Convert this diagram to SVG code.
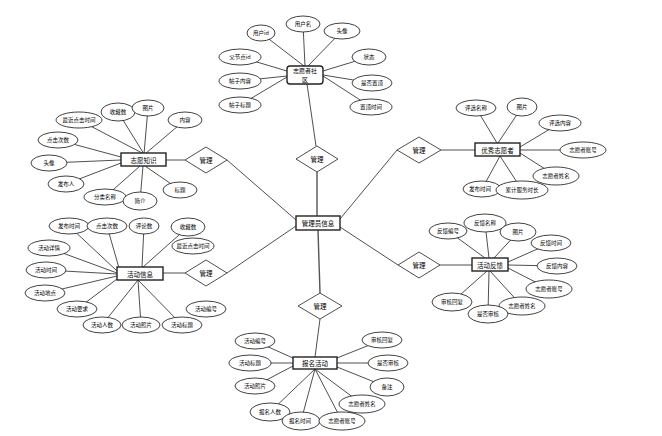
<svg xmlns="http://www.w3.org/2000/svg" width="662" height="436" viewBox="0 0 662 436">
<style>
.e{fill:#fff;stroke:#111;stroke-width:0.8}
.b{fill:#fff;stroke:#222;stroke-width:1.4}
.d{fill:#fff;stroke:#222;stroke-width:0.8}
.l line{stroke:#222;stroke-width:0.8}
.m line{stroke:#555;stroke-width:1.4}
text{font-family:"Noto Sans CJK SC","Noto Sans",sans-serif;font-size:5.5px;text-anchor:middle;dominant-baseline:central;fill:#000}
.n{font-size:6.5px}
.s{font-size:6px}
</style>
<rect width="662" height="436" fill="#fff"/>
<g id="connectors">
<g class="l">
<line x1="261" y1="33" x2="304" y2="66"/><line x1="303" y1="24" x2="305" y2="66"/><line x1="342" y1="31" x2="308" y2="66"/>
<line x1="240" y1="57" x2="287" y2="71"/><line x1="240" y1="81" x2="287" y2="76"/><line x1="240" y1="105" x2="287" y2="77"/>
<line x1="369" y1="57" x2="323" y2="71"/><line x1="372" y1="83" x2="323" y2="75"/><line x1="371" y1="107" x2="323" y2="76"/>
<line x1="307" y1="84" x2="316" y2="146"/>
<line x1="79" y1="120" x2="144" y2="154"/><line x1="118" y1="112" x2="144" y2="154"/><line x1="148" y1="108" x2="144" y2="154"/><line x1="185" y1="120" x2="145" y2="154"/>
<line x1="58" y1="140" x2="121" y2="157"/><line x1="49" y1="163" x2="121" y2="160"/><line x1="66" y1="184" x2="121" y2="163"/>
<line x1="105" y1="197" x2="140" y2="166"/><line x1="140" y1="201" x2="143" y2="166"/><line x1="180" y1="190" x2="145" y2="166"/>
<line x1="166" y1="160" x2="185" y2="160"/>
<line x1="69" y1="226" x2="117" y2="271"/><line x1="107" y1="226" x2="119" y2="268"/><line x1="144" y1="226" x2="142" y2="267"/><line x1="188" y1="227" x2="143" y2="267"/>
<line x1="49" y1="248" x2="117" y2="273"/><line x1="46" y1="270" x2="117" y2="274"/><line x1="45" y1="293" x2="117" y2="276"/><line x1="77" y1="309" x2="117" y2="279"/>
<line x1="102" y1="325" x2="138" y2="280"/><line x1="141" y1="325" x2="138" y2="280"/><line x1="182" y1="325" x2="138" y2="280"/>
<line x1="163" y1="273" x2="185" y2="273"/>
<line x1="476" y1="108" x2="497" y2="143"/><line x1="522" y1="107" x2="498" y2="143"/><line x1="560" y1="123" x2="520" y2="147"/>
<line x1="583" y1="150" x2="520" y2="150"/><line x1="556" y1="176" x2="520" y2="153"/><line x1="482" y1="189" x2="500" y2="156"/><line x1="522" y1="190" x2="500" y2="156"/>
<line x1="441" y1="150" x2="475" y2="150"/>
<line x1="448" y1="231" x2="485" y2="258"/><line x1="485" y1="223" x2="489" y2="258"/><line x1="518" y1="232" x2="494" y2="258"/>
<line x1="551" y1="243" x2="508" y2="262"/><line x1="557" y1="266" x2="508" y2="265"/><line x1="549" y1="289" x2="508" y2="268"/>
<line x1="522" y1="306" x2="490" y2="271"/><line x1="488" y1="314" x2="489" y2="271"/><line x1="452" y1="302" x2="487" y2="271"/>
<line x1="440" y1="265" x2="472" y2="265"/>
<line x1="320" y1="319" x2="315" y2="357"/>
<line x1="255" y1="341" x2="293" y2="358"/><line x1="250" y1="363" x2="293" y2="363"/><line x1="255" y1="386" x2="293" y2="366"/>
<line x1="270" y1="412" x2="315" y2="369"/><line x1="301" y1="421" x2="315" y2="369"/><line x1="342" y1="421" x2="315" y2="369"/><line x1="362" y1="404" x2="315" y2="369"/>
<line x1="387" y1="387" x2="337" y2="367"/><line x1="388" y1="363" x2="337" y2="363"/><line x1="382" y1="340" x2="337" y2="358"/>
<line x1="227" y1="160" x2="296" y2="220"/><line x1="227" y1="273" x2="296" y2="226"/>
<line x1="397" y1="150" x2="340" y2="219"/><line x1="398" y1="265" x2="340" y2="227"/>
</g>
<g class="m">
<line x1="317" y1="172" x2="317" y2="216"/>
<line x1="318" y1="230" x2="320" y2="293"/>
</g>
</g>
<g id="center">
<rect class="b" x="296" y="216" width="44" height="14"/><text class="n" x="318" y="223">管理员信息</text>
</g>
<g id="rel-top"><polygon class="d" points="317,146 338,159 317,172 296,159"/><text class="n" x="317" y="159">管理</text></g>
<g id="rel-lu"><polygon class="d" points="206,147 227,160 206,173 185,160"/><text class="n" x="206" y="160">管理</text></g>
<g id="rel-ll"><polygon class="d" points="206,260 227,273 206,286 185,273"/><text class="n" x="206" y="273">管理</text></g>
<g id="rel-ru"><polygon class="d" points="419,137 441,150 419,163 397,150"/><text class="n" x="419" y="150">管理</text></g>
<g id="rel-rl"><polygon class="d" points="419,252 440,265 419,278 398,265"/><text class="n" x="419" y="265">管理</text></g>
<g id="rel-b"><polygon class="d" points="320,293 342,306 320,319 298,306"/><text class="n" x="320" y="306">管理</text></g>
<g id="community">
<rect class="b" x="287" y="66" width="36" height="18" rx="3"/><text class="s" x="305" y="70.8">志愿者社</text><text class="s" x="305" y="79.4">区</text>
<ellipse class="e" cx="261" cy="33" rx="14" ry="8"/><text x="261" y="33">用户id</text>
<ellipse class="e" cx="303" cy="24" rx="17" ry="8"/><text x="303" y="24">用户名</text>
<ellipse class="e" cx="342" cy="31" rx="18" ry="8"/><text x="342" y="31">头像</text>
<ellipse class="e" cx="240" cy="57" rx="21" ry="8"/><text x="240" y="57">父节点id</text>
<ellipse class="e" cx="240" cy="81" rx="21" ry="8"/><text x="240" y="81">帖子内容</text>
<ellipse class="e" cx="240" cy="105" rx="21" ry="8"/><text x="240" y="105">帖子标题</text>
<ellipse class="e" cx="369" cy="57" rx="17" ry="8"/><text x="369" y="57">状态</text>
<ellipse class="e" cx="372" cy="83" rx="20" ry="8"/><text x="372" y="83">是否置顶</text>
<ellipse class="e" cx="371" cy="107" rx="21" ry="8"/><text x="371" y="107">置顶时间</text>
</g>
<g id="knowledge">
<rect class="b" x="121" y="153" width="45" height="13"/><text class="n" x="143.5" y="159.5">志愿知识</text>
<ellipse class="e" cx="79" cy="120" rx="23" ry="8"/><text x="79" y="120">最近点击时间</text>
<ellipse class="e" cx="118" cy="112" rx="17" ry="9"/><text x="118" y="112">收藏数</text>
<ellipse class="e" cx="148" cy="108" rx="16" ry="8"/><text x="148" y="108">图片</text>
<ellipse class="e" cx="185" cy="120" rx="17" ry="8"/><text x="185" y="120">内容</text>
<ellipse class="e" cx="58" cy="140" rx="20" ry="8"/><text x="58" y="140">点击次数</text>
<ellipse class="e" cx="49" cy="163" rx="18" ry="8"/><text x="49" y="163">头像</text>
<ellipse class="e" cx="66" cy="184" rx="18" ry="8"/><text x="66" y="184">发布人</text>
<ellipse class="e" cx="105" cy="197" rx="21" ry="8"/><text x="105" y="197">分类名称</text>
<ellipse class="e" cx="140" cy="201" rx="17" ry="9"/><text x="140" y="201">简介</text>
<ellipse class="e" cx="180" cy="190" rx="17" ry="8"/><text x="180" y="190">标题</text>
</g>
<g id="activity">
<rect class="b" x="117" y="267" width="46" height="13"/><text class="n" x="140" y="273.5">活动信息</text>
<ellipse class="e" cx="69" cy="226" rx="20" ry="8"/><text x="69" y="226">发布时间</text>
<ellipse class="e" cx="107" cy="226" rx="20" ry="8"/><text x="107" y="226">点击次数</text>
<ellipse class="e" cx="144" cy="226" rx="15" ry="8"/><text x="144" y="226">评论数</text>
<ellipse class="e" cx="188" cy="227" rx="17" ry="9"/><text x="188" y="227">收藏数</text>
<ellipse class="e" cx="193" cy="246" rx="21" ry="8"/><text x="193" y="246">最近点击时间</text>
<ellipse class="e" cx="49" cy="248" rx="21" ry="8"/><text x="49" y="248">活动详情</text>
<ellipse class="e" cx="46" cy="270" rx="20" ry="8"/><text x="46" y="270">活动时间</text>
<ellipse class="e" cx="45" cy="293" rx="20" ry="8"/><text x="45" y="293">活动地点</text>
<ellipse class="e" cx="77" cy="309" rx="20" ry="8"/><text x="77" y="309">活动要求</text>
<ellipse class="e" cx="102" cy="325" rx="19" ry="8"/><text x="102" y="325">活动人数</text>
<ellipse class="e" cx="141" cy="325" rx="19" ry="8"/><text x="141" y="325">活动照片</text>
<ellipse class="e" cx="182" cy="325" rx="20" ry="8"/><text x="182" y="325">活动标题</text>
<ellipse class="e" cx="206" cy="309" rx="20" ry="8"/><text x="206" y="309">活动编号</text>
</g>
<g id="excellent">
<rect class="b" x="475" y="143" width="45" height="13"/><text class="n" x="497.5" y="149.5">优秀志愿者</text>
<ellipse class="e" cx="476" cy="108" rx="20" ry="8"/><text x="476" y="108">评选名称</text>
<ellipse class="e" cx="522" cy="107" rx="15" ry="9"/><text x="522" y="107">图片</text>
<ellipse class="e" cx="560" cy="123" rx="21" ry="8"/><text x="560" y="123">评选内容</text>
<ellipse class="e" cx="583" cy="150" rx="23" ry="8"/><text x="583" y="150">志愿者账号</text>
<ellipse class="e" cx="556" cy="176" rx="23" ry="9"/><text x="556" y="176">志愿者姓名</text>
<ellipse class="e" cx="482" cy="189" rx="19" ry="8"/><text x="480" y="189">发布时间</text>
<ellipse class="e" cx="522" cy="190" rx="26" ry="9"/><text x="522" y="190">累计服务时长</text>
</g>
<g id="feedback">
<rect class="b" x="472" y="258" width="36" height="13"/><text class="n" x="490" y="264.5">活动反馈</text>
<ellipse class="e" cx="448" cy="231" rx="19" ry="8"/><text x="448" y="231">反馈编号</text>
<ellipse class="e" cx="485" cy="223" rx="21" ry="9"/><text x="485" y="223">反馈名称</text>
<ellipse class="e" cx="518" cy="232" rx="18" ry="9"/><text x="518" y="232">图片</text>
<ellipse class="e" cx="551" cy="243" rx="20" ry="8"/><text x="551" y="243">反馈时间</text>
<ellipse class="e" cx="557" cy="266" rx="20" ry="8"/><text x="557" y="266">反馈内容</text>
<ellipse class="e" cx="549" cy="289" rx="23" ry="9"/><text x="549" y="289">志愿者账号</text>
<ellipse class="e" cx="522" cy="306" rx="23" ry="9"/><text x="522" y="306">志愿者姓名</text>
<ellipse class="e" cx="488" cy="314" rx="20" ry="9"/><text x="488" y="314">是否审核</text>
<ellipse class="e" cx="452" cy="302" rx="20" ry="9"/><text x="452" y="302">审核回复</text>
</g>
<g id="signup">
<rect class="b" x="293" y="357" width="44" height="12"/><text class="n" x="315" y="363">报名活动</text>
<ellipse class="e" cx="255" cy="341" rx="20" ry="8"/><text x="255" y="341">活动编号</text>
<ellipse class="e" cx="250" cy="363" rx="21" ry="8"/><text x="250" y="363">活动标题</text>
<ellipse class="e" cx="255" cy="386" rx="20" ry="8"/><text x="255" y="386">活动照片</text>
<ellipse class="e" cx="270" cy="412" rx="20" ry="9"/><text x="270" y="412">报名人数</text>
<ellipse class="e" cx="301" cy="421" rx="19" ry="9"/><text x="300" y="421">报名时间</text>
<ellipse class="e" cx="342" cy="421" rx="23" ry="9"/><text x="342" y="421">志愿者账号</text>
<ellipse class="e" cx="362" cy="404" rx="23" ry="9"/><text x="362" y="404">志愿者姓名</text>
<ellipse class="e" cx="387" cy="387" rx="17" ry="9"/><text x="387" y="387">备注</text>
<ellipse class="e" cx="388" cy="363" rx="20" ry="8"/><text x="388" y="363">是否审核</text>
<ellipse class="e" cx="382" cy="340" rx="20" ry="8"/><text x="382" y="340">审核回复</text>
</g>
</svg>
